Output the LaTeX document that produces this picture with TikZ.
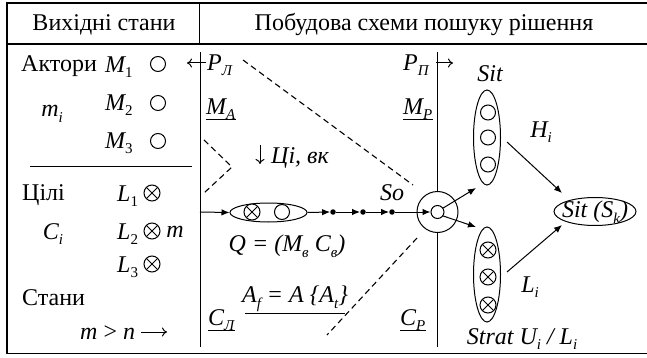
\documentclass[tikz,border=0pt]{standalone}
\usepackage{fontspec}
\setmainfont{Liberation Serif}
\usetikzlibrary{arrows.meta,shapes.geometric}
\newcommand{\sbs}[1]{\raisebox{-5.5pt}{\fontsize{15}{15}\selectfont #1}}
\begin{document}
\begin{tikzpicture}[x=1pt,y=-1pt,
  txt/.style={font=\fontsize{24}{28}\selectfont, inner sep=0pt},
  it/.style={font=\fontsize{24}{28}\selectfont\itshape, inner sep=0pt},
  ln/.style={line width=1pt},
  dsh/.style={line width=1.1pt, dash pattern=on 6pt off 4pt},
  arr/.style={line width=1pt, -{Latex[length=8pt,width=6.5pt]}},
  tarr/.style={line width=1pt, -{To[length=5pt,width=9pt]}},
  oc/.style={circle, draw, line width=1pt, minimum size=15pt, inner sep=0pt, fill=white},
  xc/.style={oc, minimum size=16pt, path picture={
     \draw[line width=0.9pt] (path picture bounding box.north west) -- (path picture bounding box.south east)
       (path picture bounding box.north east) -- (path picture bounding box.south west);}},
  dotn/.style={circle, fill=black, minimum size=5.5pt, inner sep=0pt},
  ell/.style={ellipse, draw, line width=1pt, inner sep=0pt}
]
\useasboundingbox (0,0) rectangle (647,358);
% frame
\draw[line width=1.5pt] (7,3) rectangle (649,353.5);
\draw[line width=1.5pt] (7,44) -- (649,44);
\draw[ln] (199,3) -- (199,44);
\draw[ln] (200,52) -- (200,347);
\draw[ln] (437.5,52) -- (437.5,347);
\draw[ln] (30,167) -- (192,167);
% headers
\node[txt] (h1) at (104,25) {Вихідні стани};
\node[txt] (h2) at (424,25) {Побудова схеми пошуку рішення};
% left column
\node[txt, anchor=west] (akt) at (21,66) {Актори};
\node[it, anchor=west] (m1) at (105,67) {M\sbs{\upshape 1}};
\node[oc] (c1) at (158,64) {};
\node[it] (mi) at (52,114) {m\sbs{i}};
\node[it, anchor=west] (m2) at (105,105) {M\sbs{\upshape 2}};
\node[oc] (c2) at (158,103) {};
\node[it, anchor=west] (m3) at (105,143) {M\sbs{\upshape 3}};
\node[oc] (c3) at (158,141) {};
\node[txt, anchor=west] (cil) at (22,195) {Цілі};
\node[it, anchor=west] (l1) at (117,196) {L\sbs{\upshape 1}};
\node[xc] (x1) at (152,193) {};
\node[it] (ci) at (53,234) {C\sbs{i}};
\node[it, anchor=west] (l2) at (117,234) {L\sbs{\upshape 2}};
\node[xc] (x2) at (152,231) {};
\node[it] (mm) at (175,232) {m};
\node[it, anchor=west] (l3) at (117,267) {L\sbs{\upshape 3}};
\node[xc] (x3) at (152,264) {};
\node[txt, anchor=west] (stn) at (22,298) {Стани};
\node[txt, anchor=west] (mn) at (80,333) {\textit{m} > \textit{n}};
\coordinate (mna) at (167,332);
\draw[tarr] ([xshift=6pt]mn.east |- mna) -- (mna);
% middle column
\coordinate (las) at (206,63);
\coordinate (lae) at (187,63);
\draw[tarr] (las) -- (lae);
\node[it, anchor=west] (pl) at (207,65) {P\sbs{Л}};
\node[it, anchor=west] (ma) at (206,109) {M\sbs{A}};
\draw[ln] (ma.south west) -- (ma.south east);
\draw[dsh] (243,60) -- (413,185);
\draw[dsh] (204,140) -- (232,167) -- (204,193);
\draw[dsh] (417,238) -- (327,335);
\node[it, anchor=west] (ci2) at (271,158) {Ці, вк};
\coordinate (das) at (260,145);
\coordinate (dae) at (260,164);
\draw[tarr] (das) -- (dae);
\node[ell, minimum width=77pt, minimum height=19pt] (q) at (268.5,212.5) {};
\node[xc] (qx) at (252,212) {};
\node[oc] (qo) at (282,212) {};
\coordinate (ld) at (200,212);
\draw[arr] (ld) -- (q.west);
\node[dotn] (d1) at (333,212) {};
\node[dotn] (d2) at (363,212) {};
\node[dotn] (d3) at (392,212) {};
\node[it] (so) at (392,193) {So};
\node[it] (ql) at (287,246) {Q = (M\sbs{в} C\sbs{в})};
\node[it] (af) at (295,299) {A\sbs{f} = A \{A\sbs{t}\}};
\draw[ln] (245,313) -- (345,313);
\node[it, anchor=west] (cl) at (208,320) {C\sbs{Л}};
\draw[ln] (cl.south west) -- (cl.south east);
\node[it, anchor=west] (cp) at (400,320) {C\sbs{P}};
\draw[ln] (cp.south west) -- (cp.south east);
% right column
\node[it, anchor=west] (pp) at (403,65) {P\sbs{П}};
\coordinate (ras) at (436,63);
\coordinate (rae) at (453,63);
\draw[tarr] (ras) -- (rae);
\node[it, anchor=west] (mp) at (403,109) {M\sbs{P}};
\draw[ln] (mp.south west) -- (mp.south east);
\node[circle, draw, line width=1pt, minimum size=41pt, inner sep=0pt, fill=white] (bc) at (437.5,212) {};
\node[circle, draw, line width=1pt, minimum size=13pt, inner sep=0pt, fill=white] (ic) at (437.5,212) {};
\draw[arr] (q.east) -- (d1.west);
\draw[arr] (d1) -- (d2.west);
\draw[arr] (d2) -- (d3.west);
\draw[arr] (d3) -- (ic.west);
\node[it] (sitl) at (490,74) {Sit};
\node[ell, minimum width=27pt, minimum height=95pt] (sit) at (487,137.5) {};
\node[oc] (s1) at (488,112.5) {};
\node[oc] (s2) at (488,137.5) {};
\node[oc] (s3) at (488,164.5) {};
\node[ell, minimum width=27pt, minimum height=95pt] (str) at (487,274.5) {};
\node[xc] (t1) at (488,250) {};
\node[xc] (t2) at (488,277) {};
\node[xc] (t3) at (488,305) {};
\node[ell, minimum width=82pt, minimum height=28pt] (sk) at (595,211.5) {};
\node[it] (skl) at (595,212) {Sit (S\sbs{k})};
\node[it] (hi) at (541,132) {H\sbs{i}};
\node[it] (li) at (530,287) {L\sbs{i}};
\node[it] (strl) at (522,339) {Strat U\sbs{i} / L\sbs{i}};
\coordinate (a1) at (476,188);
\coordinate (a2) at (476,227);
\coordinate (b1s) at (507,142);
\coordinate (b1e) at (562,193);
\coordinate (b2s) at (507,272);
\coordinate (b2e) at (562,225);
\draw[arr] (ic.35) -- (a1);
\draw[arr] (ic.-35) -- (a2);
\draw[arr] (b1s) -- (b1e);
\draw[arr] (b2s) -- (b2e);
\end{tikzpicture}
\end{document}
